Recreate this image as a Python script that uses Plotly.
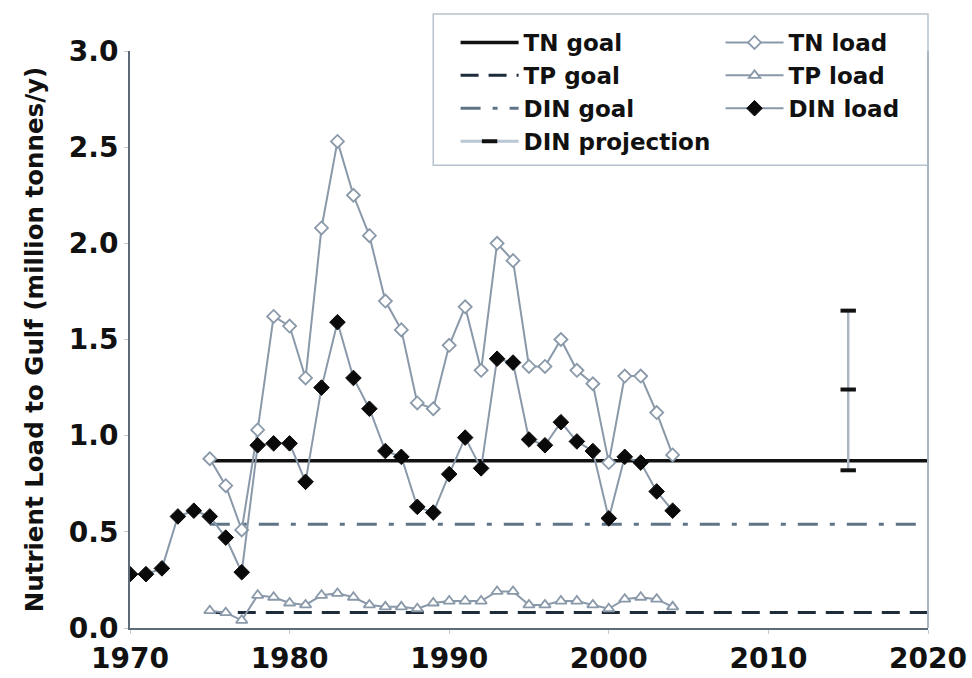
import plotly.graph_objects as go

# Annual loads (million tonnes per year)
din_years = list(range(1970, 2005))
din_load = [0.28, 0.28, 0.31, 0.58, 0.61, 0.58, 0.47, 0.29, 0.95, 0.96,
            0.96, 0.76, 1.25, 1.59, 1.30, 1.14, 0.92, 0.89, 0.63, 0.60,
            0.80, 0.99, 0.83, 1.40, 1.38, 0.98, 0.95, 1.07, 0.97, 0.92,
            0.57, 0.89, 0.86, 0.71, 0.61]

load_years = list(range(1975, 2005))
tn_load = [0.88, 0.74, 0.51, 1.03, 1.62, 1.57, 1.30, 2.08, 2.53, 2.25,
           2.04, 1.70, 1.55, 1.17, 1.14, 1.47, 1.67, 1.34, 2.00, 1.91,
           1.36, 1.36, 1.50, 1.34, 1.27, 0.86, 1.31, 1.31, 1.12, 0.90]
tp_load = [0.09, 0.08, 0.04, 0.17, 0.16, 0.13, 0.12, 0.17, 0.18, 0.16,
           0.12, 0.11, 0.11, 0.10, 0.13, 0.14, 0.14, 0.14, 0.19, 0.19,
           0.12, 0.12, 0.14, 0.14, 0.12, 0.10, 0.15, 0.16, 0.15, 0.11]

# Reduction goals, drawn over the goal period
goal_years = [1975, 2020]
tn_goal = 0.87
tp_goal = 0.08
din_goal = 0.54

# DIN projection with its range
proj_year = [2015]
proj_mid = [1.24]
proj_high = [1.65]
proj_low = [0.82]

x_ticks = [1970, 1980, 1990, 2000, 2010, 2020]
y_ticks = [0, 0.5, 1.0, 1.5, 2.0, 2.5, 3.0]

series_color = "#8a99a9"
axis_color = "#5d6b78"
font_family = "DejaVu Sans, Liberation Sans, Arial, sans-serif"

fig = go.Figure()

# goals and projection go in the left legend column, loads in the right one
fig.add_trace(go.Scatter(
    x=goal_years, y=[tn_goal] * 2, mode="lines", name="TN goal",
    legend="legend", line=dict(color="#111111", width=3.5)))
fig.add_trace(go.Scatter(
    x=goal_years, y=[tp_goal] * 2, mode="lines", name="TP goal",
    legend="legend", line=dict(color="#1e2b38", width=3, dash="18px,10px")))
fig.add_trace(go.Scatter(
    x=goal_years, y=[din_goal] * 2, mode="lines", name="DIN goal",
    legend="legend",
    line=dict(color="#5f7486", width=3, dash="20px,12px,5px,12px")))

fig.add_trace(go.Scatter(
    x=load_years, y=tn_load, mode="lines+markers", name="TN load",
    legend="legend2", line=dict(color=series_color, width=2),
    marker=dict(symbol="diamond", size=10, color="white",
                line=dict(color=series_color, width=1.8))))
fig.add_trace(go.Scatter(
    x=load_years, y=tp_load, mode="lines+markers", name="TP load",
    legend="legend2", line=dict(color=series_color, width=2),
    marker=dict(symbol="triangle-up", size=10, color="white",
                line=dict(color=series_color, width=1.8))))
fig.add_trace(go.Scatter(
    x=din_years, y=din_load, mode="lines+markers", name="DIN load",
    legend="legend2", line=dict(color=series_color, width=2),
    marker=dict(symbol="diamond", size=12, color="#0a0a0a",
                line=dict(color="#0a0a0a", width=1))))

err_plus = [h - m for h, m in zip(proj_high, proj_mid)]
err_minus = [m - l for m, l in zip(proj_mid, proj_low)]
fig.add_trace(go.Scatter(
    x=proj_year, y=proj_mid, mode="lines+markers", name="DIN projection",
    legend="legend", line=dict(color="#b9c6d3", width=3),
    marker=dict(symbol="line-ew", size=11, color="#111111",
                line=dict(color="#111111", width=4)),
    error_y=dict(type="data", array=err_plus, arrayminus=err_minus,
                 color="#aab6c2", thickness=2.5, width=0)))
fig.add_trace(go.Scatter(
    x=proj_year * 2, y=proj_high + proj_low, mode="markers", showlegend=False,
    marker=dict(symbol="line-ew", size=11, color="#111111",
                line=dict(color="#111111", width=4))))

legend_font = dict(family=font_family, size=23, weight="bold", color="#111111")
legend_common = dict(
    orientation="v", xanchor="left", yanchor="top", y=1.052,
    itemwidth=58, bgcolor="rgba(0,0,0,0)", borderwidth=0,
    font=legend_font, traceorder="normal", tracegroupgap=0)

fig.update_layout(
    width=972, height=678,
    margin=dict(l=130, r=44, t=51, b=50, autoexpand=False),
    paper_bgcolor="white", plot_bgcolor="white",
    font=dict(family=font_family, color="#111111"),
    showlegend=True,
    legend=dict(x=0.408, **legend_common),
    legend2=dict(x=0.74, **legend_common),
    xaxis=dict(
        range=[1970, 2020], tickvals=x_ticks, automargin=False,
        showgrid=False, zeroline=False,
        showline=True, linecolor=axis_color, linewidth=2,
        ticks="outside", ticklen=4, tickcolor="#c0c8d0",
        tickfont=dict(family=font_family, size=28, weight="bold",
                      color="#111111")),
    yaxis=dict(
        range=[0, 3.0], tickvals=y_ticks, tickformat=".1f", automargin=False,
        showgrid=False, zeroline=False,
        showline=True, linecolor=axis_color, linewidth=2,
        ticks="outside", ticklen=4, tickcolor="#c0c8d0",
        tickfont=dict(family=font_family, size=28, weight="bold",
                      color="#111111"),
        title=dict(text="Nutrient Load to Gulf (million tonnes/y)",
                   font=dict(family=font_family, size=24.5, weight="bold",
                             color="#111111"),
                   standoff=18)),
)

# legend frame around both columns
fig.add_shape(type="rect", xref="paper", yref="paper",
              x0=0.38, x1=1.0, y0=0.802, y1=1.064,
              line=dict(color="#b8c2cc", width=1.5), fillcolor="white",
              layer="below")

# right-hand frame edge
fig.add_shape(type="line", xref="paper", yref="paper", x0=1, x1=1, y0=0, y1=1,
              line=dict(color="#a9b6c2", width=2))

fig.write_html("out.html")
